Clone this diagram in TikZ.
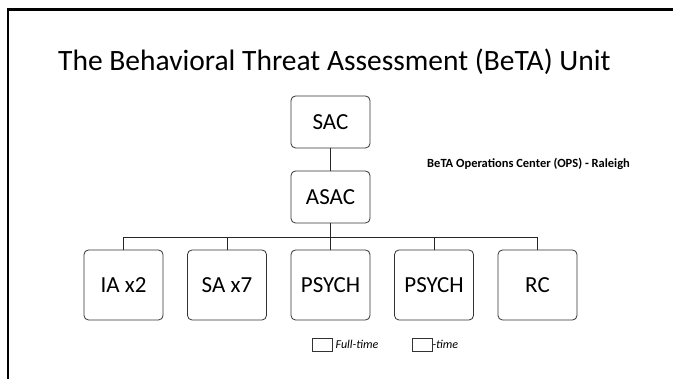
\documentclass[tikz,border=0pt]{standalone}
\usepackage{fontspec}
\setmainfont{Carlito}
\begin{document}
\begin{tikzpicture}[x=1pt,y=-1pt,
  box/.style={draw=black!80, line width=0.8pt, rounded corners=4.5pt, minimum width=79pt, inner sep=0pt, font=\fontsize{23}{25}\selectfont},
  topbox/.style={box, minimum height=52pt},
  botbox/.style={box, minimum height=70pt},
  link/.style={draw=black!85, line width=0.8pt},
  legbox/.style={draw=black!80, line width=0.6pt, minimum width=20pt, minimum height=13pt, inner sep=0pt},
  legtext/.style={font=\fontsize{12}{14}\selectfont\itshape, inner sep=0pt, anchor=west}]
\useasboundingbox (0,0) rectangle (673,379);
\fill[white] (0,0) rectangle (673,379);
\draw[line width=2.2pt] (8,380) -- (8,9.5) -- (674,9.5);
\node[anchor=base west, inner sep=0pt, font=\fontsize{29.5}{32}\selectfont] (title) at (58,71) {The Behavioral Threat Assessment (BeTA) Unit};
\node[topbox] (sac) at (330.5,122) {SAC};
\node[topbox] (asac) at (330.5,197) {ASAC};
\node[anchor=base west, inner sep=0pt, font=\fontsize{12.5}{14}\bfseries] (ops) at (427,168) {BeTA Operations Center (OPS) - Raleigh};
\coordinate (j) at (330.5,237);
\node[botbox] (ia) at (123.5,285) {IA x2};
\node[botbox] (sa) at (227,285) {SA x7};
\node[botbox] (ps1) at (330.5,285) {PSYCH};
\node[botbox] (ps2) at (434,285) {PSYCH};
\node[botbox] (rc) at (537.5,285) {RC};
\draw[link] (sac) -- (asac);
\draw[link] (asac) -- (j);
\foreach \n in {ia,sa,ps1,ps2,rc} \draw[link] (j) -| (\n.north);
\node[legbox] (lb1) at (322,344.5) {};
\node[legtext] (lt1) at (335.5,344.5) {Full-time};
\node[legbox] (lb2) at (422,344.5) {};
\node[legtext] (lt2) at (432.3,344.5) {-time};
\end{tikzpicture}
\end{document}
